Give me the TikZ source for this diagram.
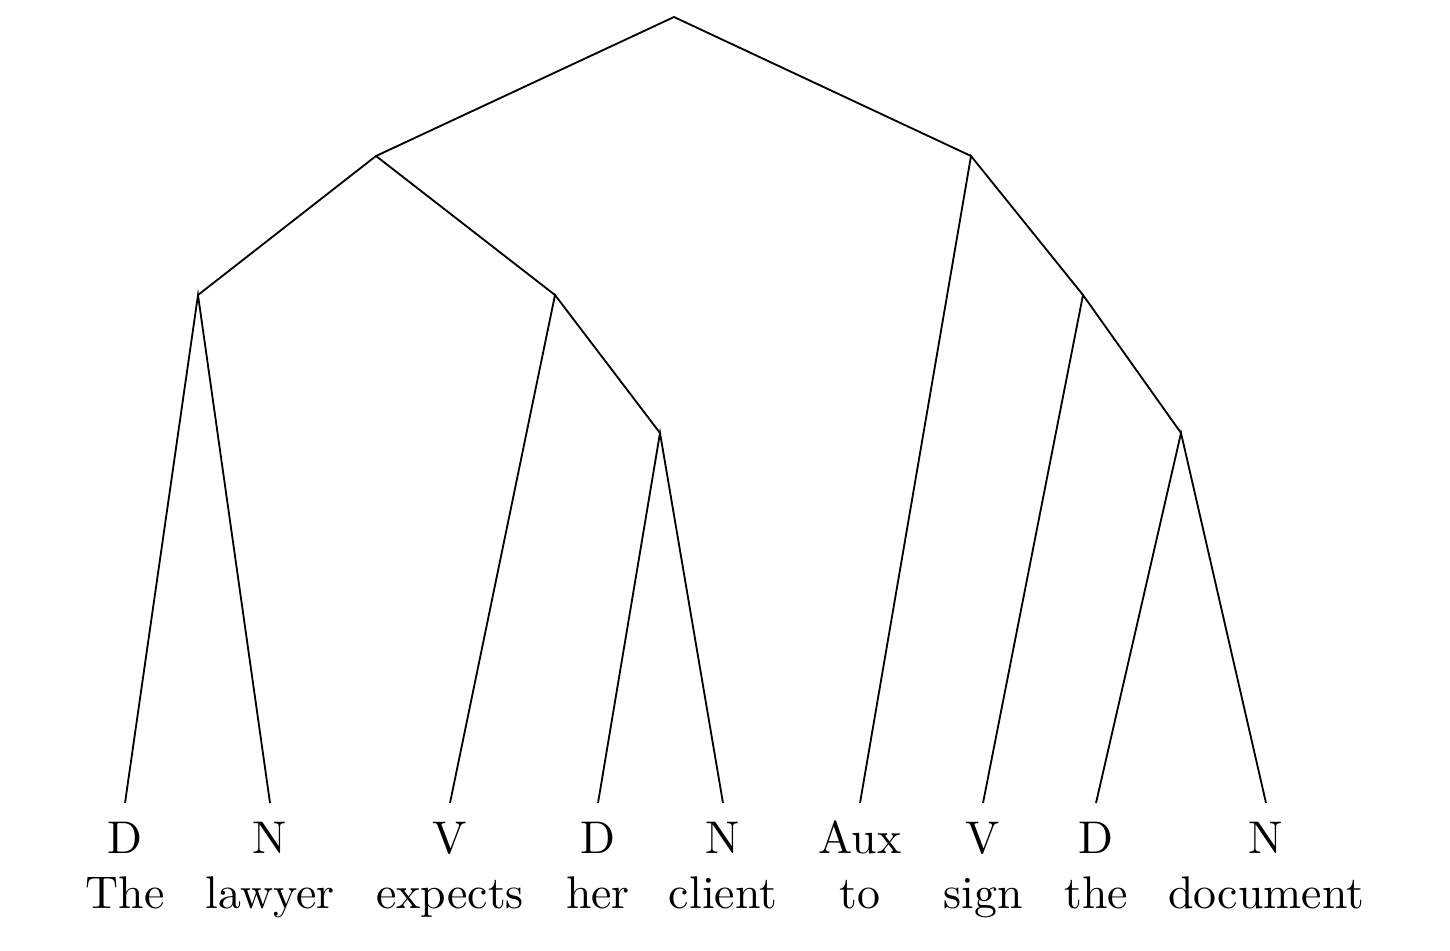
\documentclass[tikz,border=0pt]{standalone}
\begin{document}
\begin{tikzpicture}[x=2.183pt,y=-2.183pt]
  \useasboundingbox (0,0) rectangle (145,95);
  \tikzset{cat/.style={anchor=north,inner sep=4pt,text height=6.83pt},
    word/.style={anchor=base,inner sep=0pt,yshift=-12pt}}
  % branching points
  \coordinate (s) at (67.4,1.7);
  \coordinate (cl) at (37.6,15.6);
  \coordinate (ip) at (97.1,15.6);
  \coordinate (dp1) at (19.8,29.5);
  \coordinate (vp1) at (55.5,29.5);
  \coordinate (vp2) at (108.3,29.5);
  \coordinate (dp2) at (66.0,43.3);
  \coordinate (dp3) at (118.1,43.3);
  % categories
  \node[cat] (d1) at (12.5,80.3) {D};
  \node[cat] (n1) at (27.0,80.3) {N};
  \node[cat] (v1) at (45.0,80.3) {V};
  \node[cat] (d2) at (59.8,80.3) {D};
  \node[cat] (n2) at (72.3,80.3) {N};
  \node[cat] (aux) at (86.0,80.3) {Aux};
  \node[cat] (v2) at (98.3,80.3) {V};
  \node[cat] (d3) at (109.6,80.3) {D};
  \node[cat] (n3) at (126.6,80.3) {N};
  % words
  \node[word] (the1) at (d1.base) {The};
  \node[word] (lawyer) at (n1.base) {lawyer};
  \node[word] (expects) at (v1.base) {expects};
  \node[word] (her) at (d2.base) {her};
  \node[word] (client) at (n2.base) {client};
  \node[word] (to) at (aux.base) {to};
  \node[word] (sign) at (v2.base) {sign};
  \node[word] (the2) at (d3.base) {the};
  \node[word] (document) at (n3.base) {document};
  % branches
  \draw (cl) -- (s) -- (ip);
  \draw (dp1) -- (cl) -- (vp1);
  \draw (d1.north) -- (dp1) -- (n1.north);
  \draw (v1.north) -- (vp1) -- (dp2);
  \draw (d2.north) -- (dp2) -- (n2.north);
  \draw (aux.north) -- (ip) -- (vp2);
  \draw (v2.north) -- (vp2) -- (dp3);
  \draw (d3.north) -- (dp3) -- (n3.north);
\end{tikzpicture}
\end{document}
